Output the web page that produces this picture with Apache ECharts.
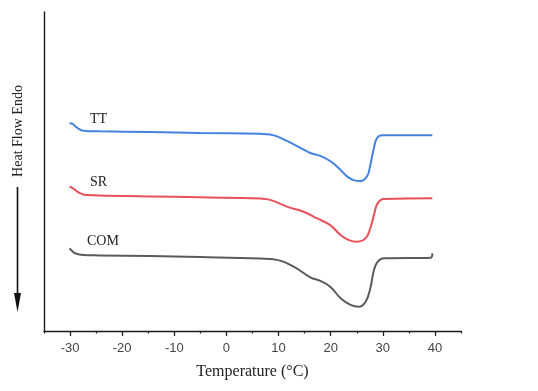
<!DOCTYPE html>
<html>
<head>
<meta charset="utf-8">
<script src="https://cdn.jsdelivr.net/npm/echarts@6/dist/echarts.min.js"></script>
<style>
  html, body { margin: 0; padding: 0; background: #fff; }
  #chart { width: 538px; height: 391px; }
</style>
</head>
<body>
<div id="chart"></div>
<script>
// DSC heating curves (heat flow in arbitrary units, endothermic downward, curves offset)
const majorTicks = [-30, -20, -10, 0, 10, 20, 30, 40];
const seriesNames = ['TT', 'SR', 'COM'];

const ttTemp = [-30.1, -29.5, -28.8, -27.5, -24.3, -14.7, -5.1, 6.5, 8.4, 11.6, 14.2, 16.1, 18.0, 19.9, 21.5, 23.2, 24.4, 25.7, 27.0, 27.6, 28.3, 28.9, 29.9, 39.5];
const ttHeat = [65.1, 64.9, 63.9, 62.8, 62.6, 62.4, 62.1, 61.8, 61.6, 59.6, 57.4, 55.8, 54.9, 53.3, 51.1, 48.4, 47.3, 47.0, 48.6, 52.0, 57.4, 60.5, 61.4, 61.4];

const srTemp = [-30.1, -29.5, -28.8, -28.1, -26.8, -14.7, -5.1, 6.5, 8.4, 11.6, 14.8, 17.4, 19.9, 21.9, 23.5, 25.1, 26.7, 27.6, 28.3, 29.0, 30.2, 39.5];
const srHeat = [45.2, 44.8, 43.9, 43.2, 42.6, 42.2, 41.9, 41.5, 41.1, 39.0, 37.4, 35.3, 33.2, 30.1, 28.5, 28.0, 29.1, 32.2, 36.4, 40.0, 41.4, 41.6];

const comTemp = [-30.1, -29.6, -29.1, -27.5, -24.3, -14.7, -5.1, 6.5, 9.7, 12.9, 16.1, 18.0, 19.9, 21.9, 23.8, 25.4, 26.7, 27.6, 28.3, 29.0, 30.2, 39.2, 39.5];
const comHeat = [25.9, 25.1, 24.4, 23.8, 23.7, 23.5, 23.2, 22.7, 22.3, 20.2, 16.8, 15.7, 13.9, 10.3, 8.2, 7.6, 9.2, 13.4, 19.1, 21.7, 22.8, 23.0, 24.4];

const colors = ['#4382e0', '#e8505a', '#5a5a5a'];
const zip = (xs, ys) => xs.map((x, i) => [x, ys[i]]);

const serif = '"Liberation Serif", "Times New Roman", serif';
const sans = '"Liberation Sans", Arial, sans-serif';
const axisColor = '#1a1a1a';

const chart = echarts.init(document.getElementById('chart'), null, { renderer: 'canvas' });

const seriesData = [zip(ttTemp, ttHeat), zip(srTemp, srHeat), zip(comTemp, comHeat)];

chart.setOption({
  animation: false,
  backgroundColor: '#fff',
  grid: { left: 44, right: 77, top: 12, bottom: 60, containLabel: false },
  xAxis: [
    {
      type: 'value', min: -35, max: 45, interval: 5,
      name: 'Temperature (\u00B0C)', nameLocation: 'middle', nameGap: 33,
      nameTextStyle: { fontFamily: serif, fontSize: 16, color: '#222' },
      axisLine: { show: true, onZero: false, lineStyle: { color: axisColor, width: 1.4 } },
      axisTick: { show: true, inside: false, length: 2.5, lineStyle: { color: axisColor, width: 1.2 } },
      axisLabel: {
        show: true, customValues: majorTicks, margin: 11,
        fontFamily: sans, fontSize: 13, color: '#444'
      },
      splitLine: { show: false }
    },
    {
      type: 'value', min: -35, max: 45, position: 'bottom',
      axisLine: { show: false, onZero: false },
      axisTick: { show: true, inside: false, length: 5, customValues: majorTicks, lineStyle: { color: axisColor, width: 1.2 } },
      axisLabel: { show: false },
      splitLine: { show: false }
    }
  ],
  yAxis: {
    type: 'value', min: 0, max: 100,
    axisLine: { show: true, onZero: false, lineStyle: { color: axisColor, width: 1.4 } },
    axisTick: { show: false },
    axisLabel: { show: false },
    splitLine: { show: false }
  },
  series: seriesNames.map((name, i) => ({
    name,
    type: 'line',
    xAxisIndex: 0,
    data: seriesData[i],
    smooth: 0.45,
    showSymbol: false,
    lineStyle: { color: colors[i], width: 2 },
    itemStyle: { color: colors[i] }
  })),
  graphic: [
    { type: 'text', left: 90, top: 112, style: { text: 'TT', font: '14px ' + serif, fill: '#222' } },
    { type: 'text', left: 90, top: 175, style: { text: 'SR', font: '14px ' + serif, fill: '#222' } },
    { type: 'text', left: 87, top: 234, style: { text: 'COM', font: '14px ' + serif, fill: '#222' } },
    {
      type: 'text', x: 18, y: 131, rotation: Math.PI / 2,
      style: { text: 'Heat Flow Endo', font: '14px ' + serif, fill: '#222', align: 'center', verticalAlign: 'middle' }
    },
    { type: 'line', shape: { x1: 17.5, y1: 187, x2: 17.5, y2: 296 }, style: { stroke: '#111', lineWidth: 1.6 } },
    { type: 'polygon', shape: { points: [[14, 293], [21, 293], [17.5, 312]] }, style: { fill: '#111' } }
  ]
});
</script>
</body>
</html>
